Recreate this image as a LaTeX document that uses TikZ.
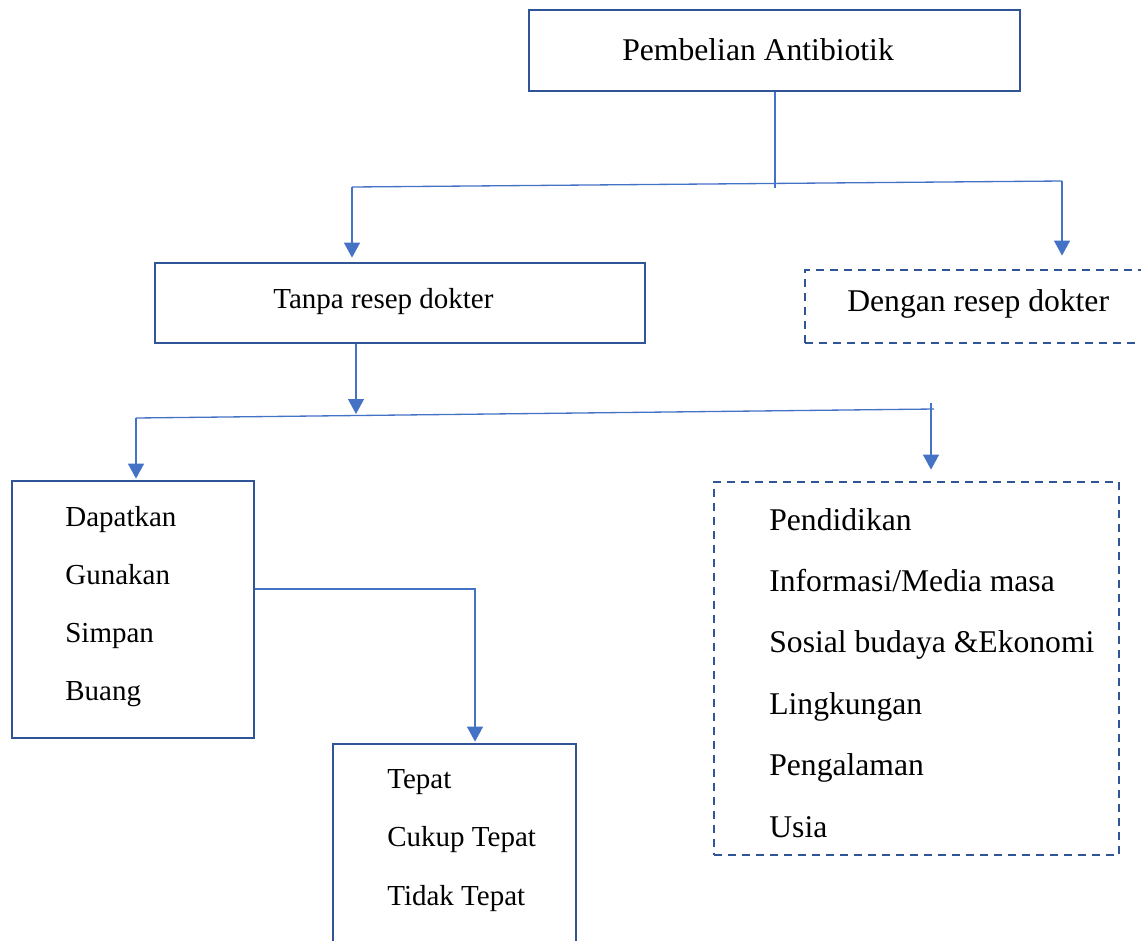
\documentclass[tikz,border=0pt]{standalone}
\usepackage{fontspec}
\setmainfont{Liberation Serif}
\usetikzlibrary{arrows.meta, positioning, fit}
\definecolor{birutua}{HTML}{2F5597}
\definecolor{biru}{HTML}{4472C4}

\tikzset{
  kotak/.style={draw=birutua, line width=1.6pt, inner sep=0pt},
  putus/.style={dash pattern=on 0.16cm off 0.12cm},
  garis/.style={draw=biru, line width=0.75pt},
  panah/.style={garis, -{Triangle[width=0.32cm, length=0.3cm]}, shorten >=0.08cm},
  besar/.style={anchor=base west, inner sep=0pt, font=\fontsize{18}{20}\selectfont},
  kecil/.style={anchor=base west, inner sep=0pt, font=\fontsize{16.5}{19}\selectfont}
}

\begin{document}
\begin{tikzpicture}[x=0.02cm, y=-0.02cm]
      \useasboundingbox (0,0) rectangle (1141,940);
      \clip (0,0) rectangle (1141,940);
      % pembelian antibiotik
      \node[kotak, fit={(529,10) (1020,91)}] (beli) {};
      \node[besar] (beli-t) at (622,60) {Pembelian Antibiotik};
      % tanpa resep dokter
      \node[kotak, fit={(155,263) (645,343)}] (tanpa) {};
      \node[kecil] (tanpa-t) at (273,308) {Tanpa resep dokter};
      % dengan resep dokter
      \node[kotak, putus, fit={(805,270) (1170,343)}] (dengan) {};
      \node[besar] (dengan-t) at (847,311) {Dengan resep dokter};
      % tindakan
      \node[kotak, fit={(12,481) (254,738)}] (tindakan) {};
      \foreach \t [count=\i] in {Dapatkan, Gunakan, Simpan, Buang}
        \node[kecil] (tindakan-\i) at (65, 526+58*\i-58) {\t};
      % ketepatan
      \node[kotak, fit={(333,744) (576,970)}] (tepat) {};
      \foreach \t [count=\i] in {Tepat, Cukup Tepat, Tidak Tepat}
        \node[kecil] (tepat-\i) at (387, 788+58.5*\i-58.5) {\t};
      % faktor
      \node[kotak, putus, fit={(714,482) (1119,855)}] (faktor) {};
      \foreach \t [count=\i] in {Pendidikan, Informasi/Media masa, Sosial budaya \&Ekonomi, Lingkungan, Pengalaman, Usia}
        \node[besar] (faktor-\i) at (769, 530+61.4*\i-61.4) {\t};
      % cabang pertama
      \coordinate (a1) at (775,188);
      \coordinate (a2) at (352,187);
      \coordinate (a3) at (1062,181);
      \draw[garis] (beli.south -| a1) -- (a1);
      \draw[garis] (a2) -- (a3);
      \draw[panah] (a2) -- (tanpa.north -| a2);
      \draw[panah, shorten >=0.26cm] (a3) -- (dengan.north -| a3);
      % cabang kedua
      \coordinate (b1) at (356,414);
      \coordinate (b2) at (136,418);
      \coordinate (b3) at (934,409);
      \coordinate (b4) at (931,403);
      \draw[panah, shorten >=0pt] (tanpa.south -| b1) -- (b1);
      \draw[garis] (b2) -- (b3);
      \draw[panah, shorten >=0.02cm] (b2) -- (tindakan.north -| b2);
      \draw[panah, shorten >=0.22cm] (b4) -- (faktor.north -| b4);
      % ke ketepatan
      \coordinate (c1) at (475,589);
      \draw[panah, shorten >=0.02cm] (tindakan.east |- c1) -- (c1) -- (tepat.north -| c1);
    \end{tikzpicture}
\end{document}
